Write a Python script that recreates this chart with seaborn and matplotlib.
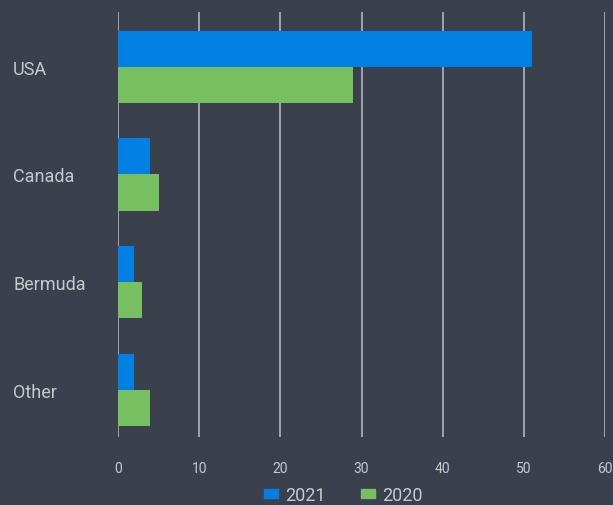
import matplotlib
matplotlib.use("Agg")
import matplotlib.pyplot as plt
import seaborn as sns
import pandas as pd

regions = ["USA", "Canada", "Bermuda", "Other"]
years = ["2021", "2020"]
vals_2021 = [51, 4, 2, 2]
vals_2020 = [29, 5, 3, 4]
x_ticks = [0, 10, 20, 30, 40, 50, 60]

bg = "#3b414c"
txt = "#c5c9ce"
palette = {"2021": "#0080e2", "2020": "#77c062"}

df = pd.DataFrame({
    "region": regions * 2,
    "year": [years[0]] * 4 + [years[1]] * 4,
    "value": vals_2021 + vals_2020,
})

sns.set_style("dark")
plt.rcParams["font.family"] = ["Roboto", "DejaVu Sans"]

fig = plt.figure(figsize=(6.13, 5.06), dpi=100)
fig.patch.set_facecolor(bg)
ax = fig.add_axes([118 / 613, 68 / 506, 487 / 613, 425 / 506])
ax.set_facecolor(bg)

sns.barplot(data=df, x="value", y="region", hue="year", order=regions,
            hue_order=years, palette=palette, width=0.67, saturation=1,
            orient="h", ax=ax, legend=False, zorder=3, linewidth=0)

ax.set_xlim(0, 60)
ax.set_ylim(3.44, -0.51)
ax.set_xticks(x_ticks)
ax.grid(False)
for t in x_ticks:
    ax.axvline(t, color="#a9adb3", lw=1.3, zorder=1)
for s in ax.spines.values():
    s.set_visible(False)
ax.set_xlabel("")
ax.set_ylabel("")
ax.tick_params(axis="x", length=0, pad=17, labelsize=10, labelcolor=txt)
ax.tick_params(axis="y", length=0, pad=75.6, labelsize=13, labelcolor=txt)
for lab in ax.get_yticklabels():
    lab.set_horizontalalignment("left")

handles = [plt.Rectangle((0, 0), 1, 1, color=palette[y]) for y in years]
fig.legend(handles, years, loc="center", bbox_to_anchor=(0.56, 0.02),
           ncol=2, frameon=False, fontsize=13, labelcolor=txt,
           handlelength=0.8, handleheight=0.4, handletextpad=0.4,
           columnspacing=1.95, borderpad=0)

fig.savefig("out.png", dpi=100, facecolor=bg)
